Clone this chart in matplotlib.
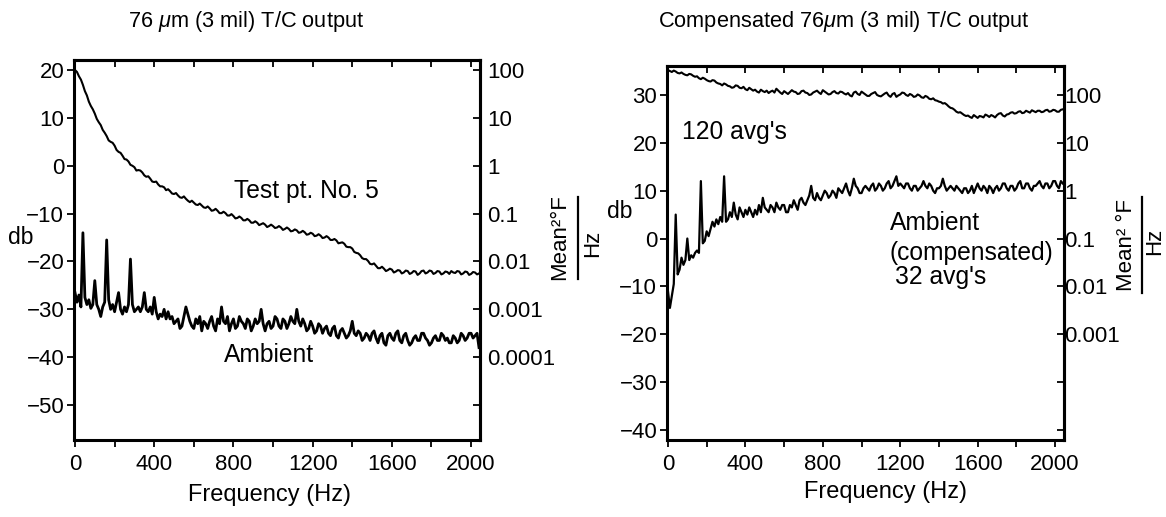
import numpy as np
import matplotlib
matplotlib.use("Agg")
import matplotlib.pyplot as plt
from matplotlib.lines import Line2D

plt.rcParams['font.family'] = ['Liberation Sans', 'DejaVu Sans']
plt.rcParams['mathtext.fontset'] = 'custom'
plt.rcParams['mathtext.rm'] = 'Liberation Sans'
plt.rcParams['mathtext.it'] = 'Liberation Sans:italic'

# ---------------- data (dB values, every 10 Hz from 0 Hz) ----------------
# Left panel: "Test pt. No. 5"
left_test_db = [
    20.0, 19.6, 18.7, 18.0, 16.9, 15.6, 14.7, 13.4, 12.5, 11.8,
    10.9, 9.8, 9.1, 8.5, 7.5, 6.9, 6.2, 5.3, 5.0, 4.8,
    4.2, 3.3, 2.9, 2.7, 2.1, 1.4, 1.3, 0.9, 0.2, 0.0,
    -0.3, -1.0, -0.9, -1.0, -1.4, -2.0, -2.3, -2.2, -2.7, -3.3,
    -3.4, -3.3, -3.9, -4.3, -4.3, -4.5, -5.1, -4.9, -5.3, -5.8,
    -5.9, -5.7, -6.2, -6.6, -6.7, -6.4, -6.9, -7.3, -7.6, -7.3,
    -7.7, -8.1, -8.2, -7.9, -8.3, -8.7, -8.8, -8.5, -8.9, -9.4,
    -9.3, -9.0, -9.4, -9.9, -9.9, -9.6, -9.9, -10.4, -10.4, -10.1,
    -10.5, -11.0, -10.9, -10.6, -10.9, -11.4, -11.4, -11.1, -11.4, -11.9,
    -11.9, -11.6, -11.9, -12.4, -12.2, -12.0, -12.3, -12.8, -12.6, -12.3,
    -12.6, -13.0, -12.9, -12.6, -12.9, -13.4, -13.2, -12.9, -13.2, -13.7,
    -13.6, -13.3, -13.5, -14.0, -13.9, -13.6, -13.9, -14.4, -14.3, -14.0,
    -14.2, -14.7, -14.6, -14.3, -14.6, -15.1, -15.0, -14.7, -15.0, -15.5,
    -15.5, -15.3, -15.6, -16.2, -16.1, -16.0, -16.3, -16.9, -17.0, -17.0,
    -17.3, -18.0, -18.2, -18.3, -18.7, -19.3, -19.5, -19.5, -19.9, -20.5,
    -20.6, -20.4, -20.9, -21.4, -21.4, -21.1, -21.5, -22.0, -21.8, -21.5,
    -21.7, -22.3, -22.1, -21.8, -21.9, -22.5, -22.3, -21.9, -22.0, -22.6,
    -22.4, -22.0, -22.1, -22.8, -22.5, -22.0, -21.9, -22.5, -22.3, -21.9,
    -22.0, -22.6, -22.4, -22.0, -22.1, -22.7, -22.5, -22.1, -22.2, -22.6,
    -22.0, -22.3, -22.4, -22.0, -22.1, -22.7, -22.5, -22.1, -22.2, -22.8,
    -22.6, -22.2, -22.3, -22.7, -22.5]

# Left panel: "Ambient" (0..500 Hz, then 510..2040 Hz)
left_amb_low_db = [
    -26.5, -28.5, -27.0, -29.5, -14.0, -27.5, -29.0, -28.0, -29.8, -29.0,
    -24.0, -29.0, -30.0, -31.5, -29.5, -28.5, -15.5, -28.0, -30.0, -29.0,
    -30.5, -28.5, -26.5, -30.0, -31.0, -29.5, -30.5, -29.0, -19.5, -29.0,
    -30.5, -30.0, -29.5, -30.5, -29.5, -26.5, -30.0, -30.5, -29.5, -31.0,
    -27.5, -30.5, -32.0, -31.0, -31.5, -30.0, -32.0, -30.5, -32.0, -31.5,
    -33.0]
left_amb_high_db = [
    -32.5, -32.0, -34.0, -33.5, -31.5, -29.5, -31.0, -32.5, -33.5, -34.0,
    -32.0, -33.0, -31.5, -34.5, -32.5, -33.0, -34.0, -32.5, -31.5, -33.5,
    -34.5, -32.0, -33.0, -29.5, -32.5, -33.0, -31.5, -34.5, -33.0, -32.0,
    -34.0, -33.5, -31.5, -32.5, -33.0, -34.0, -32.0, -32.5, -34.5, -33.5,
    -32.0, -33.0, -32.5, -30.0, -33.0, -34.5, -33.0, -32.5, -34.0, -33.5,
    -31.5, -32.0, -33.5, -34.0, -32.0, -32.5, -34.0, -33.0, -31.5, -32.5,
    -33.0, -30.0, -32.5, -33.5, -32.0, -33.0, -34.5, -34.0, -32.5, -33.5,
    -35.0, -34.5, -33.0, -33.5, -35.0, -34.0, -33.5, -35.0, -35.5, -34.0,
    -33.5, -35.5, -36.0, -34.5, -34.0, -35.0, -36.0, -35.5, -34.5, -32.5,
    -35.0, -35.5, -34.5, -35.0, -36.5, -36.0, -35.0, -35.5, -36.5, -35.0,
    -34.5, -36.0, -37.0, -35.5, -35.0, -37.0, -37.5, -35.5, -35.0, -36.0,
    -36.5, -35.0, -34.5, -36.5, -37.0, -35.5, -35.0, -36.5, -37.5, -37.0,
    -36.0, -35.5, -36.5, -36.5, -35.0, -35.0, -36.0, -36.5, -37.5, -37.0,
    -36.0, -35.5, -36.5, -36.5, -35.0, -35.5, -36.5, -36.0, -37.0, -37.0,
    -35.5, -36.0, -37.0, -36.5, -35.0, -35.5, -36.5, -36.0, -35.0, -35.0,
    -36.0, -35.5, -35.0, -38.0]

# Right panel: upper trace ("120 avg's")
right_top_db = [
    35.2, 35.0, 34.8, 35.1, 34.9, 34.6, 34.5, 34.7, 34.4, 34.2,
    34.1, 34.4, 34.3, 34.0, 33.8, 33.9, 33.5, 33.3, 33.6, 33.4,
    33.1, 32.9, 32.8, 33.1, 33.0, 32.6, 32.4, 32.3, 32.0, 32.4,
    32.2, 31.9, 31.8, 31.5, 31.6, 32.0, 31.9, 31.5, 31.4, 31.7,
    31.2, 31.0, 31.5, 31.2, 30.9, 31.1, 30.7, 30.5, 31.1, 30.8,
    30.6, 30.9, 30.4, 30.7, 30.9, 30.5, 31.3, 30.9, 30.5, 30.2,
    30.8, 30.5, 30.2, 30.6, 31.0, 30.7, 30.6, 30.2, 30.3, 30.8,
    30.9, 30.5, 30.4, 30.0, 30.1, 30.5, 30.7, 30.9, 30.5, 30.2,
    31.0, 30.7, 30.4, 30.1, 30.2, 30.6, 30.8, 30.4, 30.3, 30.7,
    30.6, 30.3, 30.1, 30.4, 29.9, 29.7, 30.5, 30.7, 30.2, 30.0,
    30.7, 30.4, 30.1, 29.8, 29.8, 30.2, 30.4, 30.6, 30.0, 29.8,
    29.7, 30.0, 30.3, 30.5, 29.9, 29.6, 30.2, 30.4, 29.6, 29.9,
    30.1, 30.5, 30.4, 30.0, 29.8, 30.2, 30.0, 29.6, 29.7, 30.1,
    29.9, 29.5, 29.4, 29.8, 29.6, 29.2, 29.1, 29.3, 28.9, 28.8,
    28.6, 28.5, 28.2, 28.3, 28.0, 27.6, 27.3, 27.2, 26.9, 26.5,
    26.3, 26.4, 26.1, 25.8, 25.6, 25.7, 25.4, 25.2, 25.8, 25.5,
    25.2, 25.6, 25.5, 25.3, 25.9, 25.7, 25.4, 25.8, 25.6, 25.3,
    25.8, 26.1, 26.2, 25.7, 25.5, 25.9, 26.0, 26.3, 26.4, 26.1,
    26.2, 26.5, 26.6, 26.2, 26.3, 26.7, 26.5, 26.3, 26.8, 26.6,
    26.4, 26.7, 26.7, 26.4, 26.5, 26.8, 26.9, 26.5, 26.6, 26.9,
    26.8, 26.5, 26.5, 26.9, 27.0]

# Right panel: "Ambient (compensated) 32 avg's" (0..500 Hz, then 510..2040 Hz)
right_amb_low_db = [
    -11.0, -14.5, -12.0, -9.5, 5.0, -7.5, -6.5, -4.0, -5.5, -4.5,
    0.0, -4.5, -3.5, -4.0, -3.0, -2.5, -3.0, 12.0, -1.0, -0.5,
    1.5, 0.5, 2.0, 3.5, 2.5, 4.0, 3.0, 4.5, 3.5, 13.0,
    3.5, 4.0, 5.5, 4.5, 7.5, 5.0, 4.0, 6.5, 5.5, 4.5,
    6.0, 5.0, 6.5, 5.5, 4.5, 6.0, 5.0, 7.0, 5.5, 8.5,
    6.5]
right_amb_high_db = [
    6.0, 5.5, 7.0, 6.5, 5.5, 7.5, 6.5, 6.0, 7.0, 7.0,
    5.5, 5.5, 7.0, 6.5, 8.0, 7.0, 6.0, 8.0, 8.5, 7.5,
    7.0, 8.0, 9.0, 11.0, 8.5, 8.0, 9.5, 8.5, 8.0, 9.0,
    10.0, 9.5, 8.5, 9.0, 10.0, 9.5, 8.5, 10.5, 10.0, 9.5,
    10.5, 11.5, 10.0, 9.0, 10.5, 12.5, 11.0, 10.5, 9.5, 9.5,
    10.5, 11.0, 10.5, 10.0, 11.0, 11.5, 10.0, 10.5, 11.5, 11.0,
    10.0, 10.5, 11.5, 12.0, 10.5, 11.0, 12.0, 13.0, 11.0, 11.5,
    11.0, 10.5, 11.5, 11.5, 10.5, 10.0, 11.0, 11.0, 10.0, 10.5,
    11.0, 12.0, 11.0, 10.5, 11.5, 11.0, 10.0, 9.5, 10.5, 10.5,
    11.0, 12.5, 11.0, 10.0, 10.5, 11.0, 10.5, 10.0, 11.0, 10.5,
    10.0, 9.5, 10.5, 10.5, 9.5, 10.0, 11.0, 9.5, 10.5, 11.5,
    10.5, 10.0, 11.0, 10.5, 9.5, 11.0, 10.5, 9.5, 10.5, 11.0,
    10.0, 10.5, 11.5, 11.5, 10.5, 10.0, 11.0, 11.0, 10.0, 10.5,
    11.5, 12.0, 10.5, 10.5, 11.5, 11.5, 10.5, 10.0, 11.0, 11.0,
    11.5, 12.0, 11.0, 10.5, 11.5, 11.5, 10.5, 11.0, 12.0, 12.0,
    11.0, 10.5, 12.0, 11.5]

x_major = [0, 400, 800, 1200, 1600, 2000]
left_db_ticks = [20, 10, 0, -10, -20, -30, -40, -50]
right_db_ticks = [30, 20, 10, 0, -10, -20, -30, -40]
left_p_ticks = [100, 10, 1, 0.1, 0.01, 0.001, 0.0001, 0.00001]
left_p_labels = ['100', '10', '1', '0.1', '0.01', '0.001', '0.0001', '']
right_p_ticks = [100, 10, 1, 0.1, 0.01, 0.001, 0.0001, 0.00001]
right_p_labels = ['100', '10', '1', '0.1', '0.01', '0.001', '', '']

titles = ['76 $\\mu$m (3 mil) T/C output', 'Compensated 76$\\mu$m (3 mil) T/C output']

# ---------------- frequency grids (10 Hz spacing) ----------------
STEP = 10
db_test_l = np.array(left_test_db)
db_amb_l = np.array(left_amb_low_db + left_amb_high_db)
db_top_r = np.array(right_top_db)
db_amb_r = np.array(right_amb_low_db + right_amb_high_db)
f_test_l = np.arange(len(db_test_l)) * STEP
f_amb_l = np.arange(len(db_amb_l)) * STEP
f_top_r = np.arange(len(db_top_r)) * STEP
f_amb_r = np.arange(len(db_amb_r)) * STEP

# ---------------- figure ----------------
W, H = 1166, 517
fig = plt.figure(figsize=(W / 100, H / 100), dpi=100)


def px_axes(l, t, r, b):
    return fig.add_axes([l / W, 1 - b / H, (r - l) / W, (b - t) / H])


ax1 = px_axes(74, 60, 480, 440)
ax2 = px_axes(667, 66, 1064, 440)

ax1.plot(f_test_l, db_test_l, color='black', lw=1.5)
ax1.plot(f_amb_l, db_amb_l, color='black', lw=2.0)
ax2.plot(f_top_r, db_top_r, color='black', lw=1.5)
ax2.plot(f_amb_r, db_amb_r, color='black', lw=1.6)

ax1.set_xlim(-5, 2045)
ax1.set_ylim(-57.3, 22.1)
ax2.set_xlim(-5, 2046)
ax2.set_ylim(-42.1, 36.05)

SPW = 2.2
TS = 16
AS = 17.7


def style(ax, yticks, sec_fun, p_ticks, p_labels, rpad):
    ax.set_xticks(x_major)
    ax.set_xticks(np.arange(0, 2001, 200), minor=True)
    ax.set_yticks(yticks)
    ax.tick_params(axis='both', which='both', direction='out', length=5,
                   width=1.3, labelsize=TS, color='black')
    ax.tick_params(axis='x', pad=5)
    ax.tick_params(axis='y', pad=2)
    for s in ax.spines.values():
        s.set_linewidth(SPW)
    top = ax.secondary_xaxis('top')
    top.set_xticks(np.arange(0, 2001, 200))
    top.tick_params(direction='in', length=5, width=1.3, labeltop=False)
    top.spines['top'].set_linewidth(SPW)
    sec = ax.secondary_yaxis('right', functions=sec_fun)
    sec.set_yticks(p_ticks)
    sec.set_yticklabels(p_labels)
    sec.yaxis.set_minor_locator(matplotlib.ticker.NullLocator())
    sec.tick_params(direction='in', length=5, width=1.3, labelsize=TS, pad=rpad)
    sec.spines['right'].set_linewidth(SPW)
    return sec


style(ax1, left_db_ticks,
      (lambda d: 10 ** (np.asarray(d) / 10.0), lambda p: 10 * np.log10(p)),
      left_p_ticks, left_p_labels, 5)
style(ax2, right_db_ticks,
      (lambda d: 10 ** ((np.asarray(d) - 10.0) / 10.0), lambda p: 10 * np.log10(p) + 10),
      right_p_ticks, right_p_labels, 0)

# axis labels
ax1.set_xlabel('Frequency (Hz)', fontsize=17)
ax1.xaxis.set_label_coords((269 - 74) / 406, (440 - 495) / 380)
ax1.xaxis.label.set_va('center')
ax2.set_xlabel('Frequency (Hz)', fontsize=17)
ax2.xaxis.set_label_coords((886 - 667) / 397, (440 - 492) / 374)
ax2.xaxis.label.set_va('center')

ax1.set_ylabel('db', fontsize=16.5, rotation=0, va='center', ha='center')
ax1.yaxis.set_label_coords((21 - 74) / 406, (440 - 238) / 380)
ax2.set_ylabel('db', fontsize=16.5, rotation=0, va='center', ha='center')
ax2.yaxis.set_label_coords((620 - 667) / 397, (440 - 212) / 374)

# annotations
ax1.text(804, -5.3, 'Test pt. No. 5', fontsize=AS, ha='left', va='center')
ax1.text(754, -39.6, 'Ambient', fontsize=AS, ha='left', va='center')
ax2.text(72, 22.3, "120 avg's", fontsize=AS, ha='left', va='center')
ax2.text(1147, 3.3, 'Ambient', fontsize=AS, ha='left', va='center')
ax2.text(1147, -3.0, '(compensated)', fontsize=AS, ha='left', va='center')
ax2.text(1173, -8.0, "32 avg's", fontsize=AS, ha='left', va='center')

# titles
fig.text(246 / W, 1 - 22 / H, titles[0], ha='center', va='center', fontsize=15.7)
fig.text(844 / W, 1 - 22 / H, titles[1], ha='center', va='center', fontsize=15.7)


# right-hand unit labels  (Mean^2 °F / Hz), rotated
def unit_label(xnum, ynum, xbar, y0, y1, xden, yden, num):
    fig.text(xnum / W, 1 - ynum / H, num, rotation=90, ha='center', va='center', fontsize=16)
    fig.add_artist(Line2D([xbar / W, xbar / W], [1 - y0 / H, 1 - y1 / H],
                          color='black', lw=1.6, transform=fig.transFigure))
    fig.text(xden / W, 1 - yden / H, 'Hz', rotation=90, ha='center', va='center', fontsize=16)


unit_label(560, 237, 578, 197, 279, 593, 243, 'Mean²°F')
unit_label(1127, 245, 1142, 197, 293, 1155, 241, 'Mean² °F')

fig.savefig('out.png', dpi=100, facecolor='white')
